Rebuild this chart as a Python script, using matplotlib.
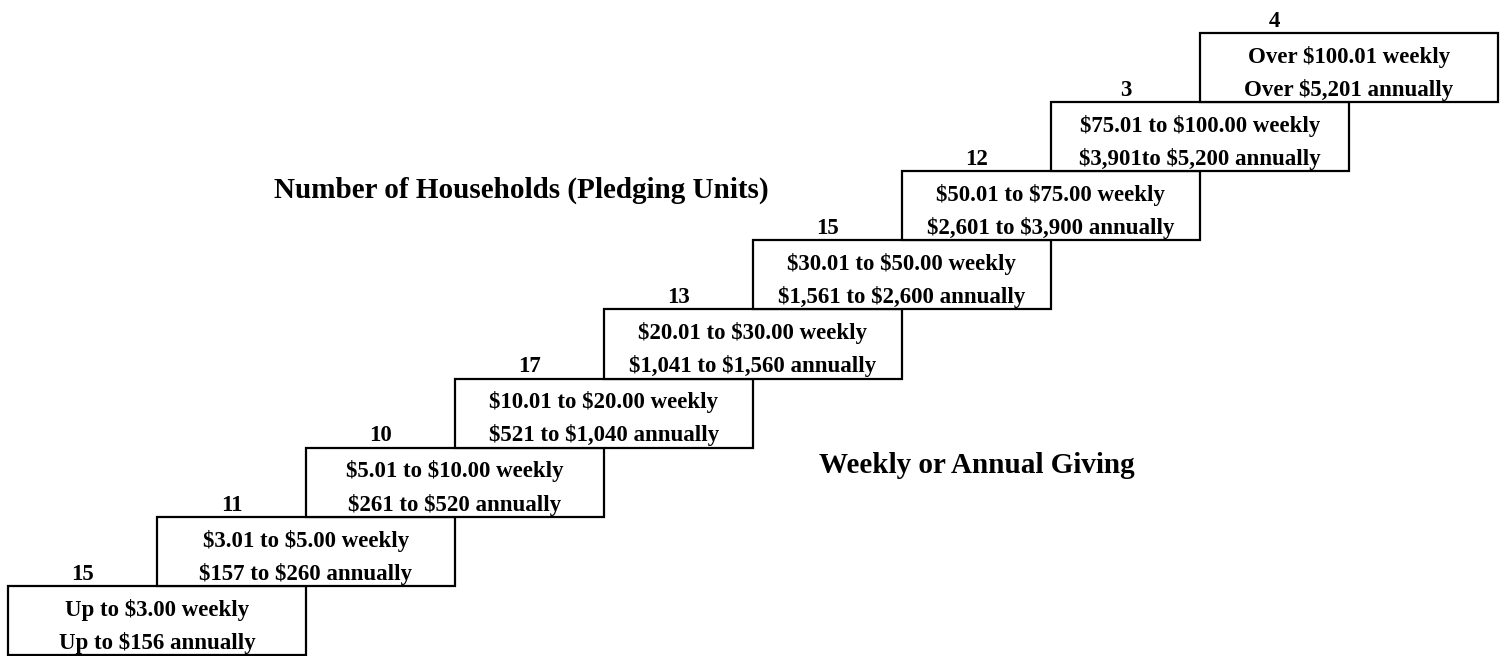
import matplotlib
matplotlib.use("Agg")
import matplotlib.pyplot as plt
from matplotlib.patches import Rectangle

# ---- data ----
weekly = ["Up to $3.00 weekly", "$3.01 to $5.00 weekly", "$5.01 to $10.00 weekly",
          "$10.01 to $20.00 weekly", "$20.01 to $30.00 weekly", "$30.01 to $50.00 weekly",
          "$50.01 to $75.00 weekly", "$75.01 to $100.00 weekly", "Over $100.01 weekly"]
annual = ["Up to $156 annually", "$157 to $260 annually", "$261 to $520 annually",
          "$521 to $1,040 annually", "$1,041 to $1,560 annually", "$1,561 to $2,600 annually",
          "$2,601 to $3,900 annually", "$3,901to $5,200 annually", "Over $5,201 annually"]
households = [15, 11, 10, 17, 13, 15, 12, 3, 4]
title_households = "Number of Households (Pledging Units)"
title_giving = "Weekly or Annual Giving"

# ---- layout ----
STEP_X = 149.0   # px per step horizontally
STEP_Y = 69.1    # px per step vertically
W, H = 1504, 656
X0, Y0 = 8, 655  # pixel position of data origin (left, bottom measured from top)

fig = plt.figure(figsize=(W / 100, H / 100), dpi=100)
ax = fig.add_axes([0, 0, 1, 1])
ax.set_xlim(-X0 / STEP_X, (W - X0) / STEP_X)
ax.set_ylim((Y0 - H) / STEP_Y, Y0 / STEP_Y)
ax.axis("off")

font = dict(family="Liberation Serif", weight="bold", color="black")
box_fs = 16.5
title_fs = 21

for k, (wk, an, n) in enumerate(zip(weekly, annual, households)):
    ax.add_patch(Rectangle((k, k), 2.0, 1.0, facecolor="white", edgecolor="black",
                           linewidth=1.6, zorder=2 + 2 * k))
    ax.text(k + 1.0, k + 0.57, wk, ha="center", va="baseline", fontsize=box_fs,
            zorder=3 + 2 * k, parse_math=False, **font)
    ax.text(k + 1.0, k + 0.09, an, ha="center", va="baseline", fontsize=box_fs,
            zorder=3 + 2 * k, parse_math=False, **font)
    ax.text(k + 0.5, k + 1.09, str(n), ha="center", va="baseline", fontsize=box_fs,
            zorder=3 + 2 * k, **font)

ax.text((521 - X0) / STEP_X, (Y0 - 198) / STEP_Y, title_households, ha="center",
        va="baseline", fontsize=title_fs, **font)
ax.text((977 - X0) / STEP_X, (Y0 - 473) / STEP_Y, title_giving, ha="center",
        va="baseline", fontsize=title_fs, **font)

fig.savefig("out.png", dpi=100, facecolor="white")
